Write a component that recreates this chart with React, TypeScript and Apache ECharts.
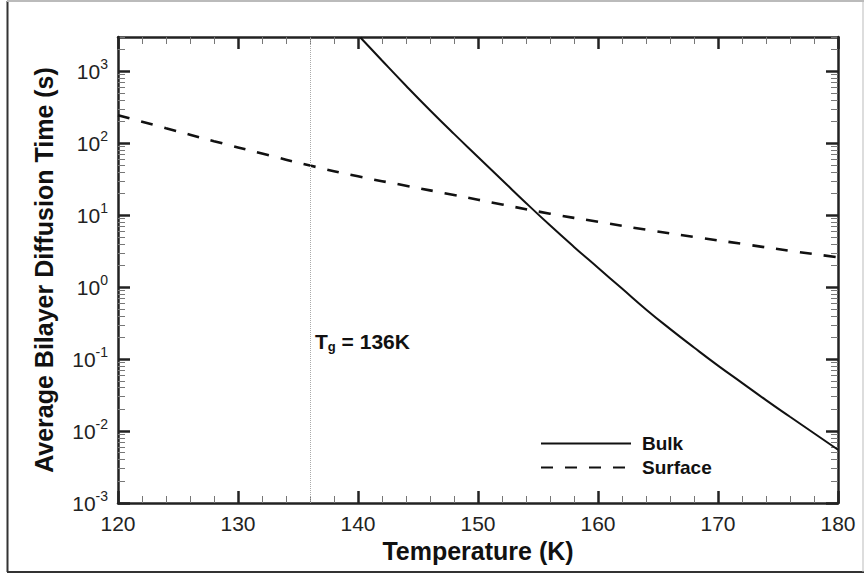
import React, { useEffect, useRef } from 'react';
import * as echarts from 'echarts';

const FONT = '"Liberation Sans", Arial, Helvetica, sans-serif';

// Bulk diffusion time (s) vs temperature (K)
const T_BULK = [140.2, 142, 144, 146, 148, 150, 152, 154, 156, 158, 160, 162, 164, 166, 168, 170, 172, 174, 176, 178, 180];
const BULK = [2951, 1413, 631, 288, 135, 64.6, 30.9, 14.8, 7.24, 3.63, 1.86, 0.955, 0.49, 0.263, 0.145, 0.0813, 0.0468, 0.0269, 0.0158, 0.00933, 0.0055];

// Surface diffusion time (s) vs temperature (K)
const T_SURF = [120, 124, 128, 132, 136, 140, 144, 148, 152, 156, 160, 164, 168, 172, 176, 180];
const SURF = [245, 162, 107, 72, 49, 34.7, 25.7, 19.1, 14.1, 10.5, 8.1, 6.3, 5.0, 4.0, 3.2, 2.6];

const TG = 136;
const X_MIN = 120;
const X_MAX = 180;
const Y_MIN = 0.001;
const Y_MAX = 3000;
const Y_MAJOR = [0.001, 0.01, 0.1, 1, 10, 100, 1000];
const Y_MINOR: number[] = [];
for (const d of Y_MAJOR) {
  for (let k = 2; k <= 9; k++) {
    const v = parseFloat((k * d).toPrecision(6));
    if (v <= Y_MAX) Y_MINOR.push(v);
  }
}

const AXIS_COLOR = '#222';
const MINOR_COLOR = '#777';

export default function App() {
  const ref = useRef<HTMLDivElement>(null);
  useEffect(() => {
    const chart = echarts.init(ref.current!, null, { renderer: 'svg' });
    const axisLine = { show: true, lineStyle: { color: AXIS_COLOR, width: 2.5 } };
    const majorTick = { show: true, inside: true, length: 12, lineStyle: { color: AXIS_COLOR, width: 2.5 } };
    const minorTick = { show: true, splitNumber: 5, length: 7, lineStyle: { color: MINOR_COLOR, width: 1 } };

    const yBase = (position: string) => ({
      type: 'log',
      logBase: 10,
      min: Y_MIN,
      max: Y_MAX,
      position,
      splitLine: { show: false },
      minorSplitLine: { show: false },
    });

    const option: any = {
      animation: false,
      backgroundColor: '#fff',
      grid: { left: 118, right: 26, top: 37, bottom: 72, containLabel: false },
      xAxis: [
        {
          type: 'value',
          position: 'bottom',
          min: X_MIN,
          max: X_MAX,
          interval: 10,
          axisLine,
          axisTick: majorTick,
          minorTick,
          splitLine: { show: false },
          minorSplitLine: { show: false },
          axisLabel: { show: true, margin: 10, fontSize: 21, color: AXIS_COLOR, fontFamily: FONT },
          name: 'Temperature (K)',
          nameLocation: 'middle',
          nameGap: 33,
          nameTextStyle: { fontSize: 25, fontWeight: 'bold', color: '#111', fontFamily: FONT },
        },
        {
          type: 'value',
          position: 'top',
          min: X_MIN,
          max: X_MAX,
          interval: 10,
          axisLine,
          axisTick: majorTick,
          minorTick,
          splitLine: { show: false },
          minorSplitLine: { show: false },
          axisLabel: { show: false },
        },
      ],
      yAxis: [
        {
          ...yBase('left'),
          axisLine,
          axisTick: { ...majorTick, customValues: Y_MAJOR },
          axisLabel: {
            show: true,
            margin: 10,
            customValues: Y_MAJOR,
            formatter: (v: number) => `{b|10}{e|${Math.round(Math.log10(v))}}`,
            rich: {
              b: { fontSize: 21, lineHeight: 28, color: AXIS_COLOR, fontFamily: FONT, verticalAlign: 'middle' },
              e: { fontSize: 14, lineHeight: 14, color: AXIS_COLOR, fontFamily: FONT, verticalAlign: 'top' },
            },
          },
          name: 'Average Bilayer Diffusion Time (s)',
          nameLocation: 'middle',
          nameGap: 62,
          nameRotate: 90,
          nameTextStyle: { fontSize: 25, fontWeight: 'bold', color: '#111', fontFamily: FONT },
        },
        {
          ...yBase('left'),
          axisLine: { show: false },
          axisTick: { show: true, inside: true, length: 7, customValues: Y_MINOR, lineStyle: { color: MINOR_COLOR, width: 1 } },
          axisLabel: { show: false },
        },
        {
          ...yBase('right'),
          axisLine,
          axisTick: { ...majorTick, customValues: Y_MAJOR },
          axisLabel: { show: false },
        },
        {
          ...yBase('right'),
          axisLine: { show: false },
          axisTick: { show: true, inside: true, length: 7, customValues: Y_MINOR, lineStyle: { color: MINOR_COLOR, width: 1 } },
          axisLabel: { show: false },
        },
      ],
      legend: {
        data: ['Bulk', 'Surface'],
        orient: 'vertical',
        left: 535,
        top: 429,
        itemWidth: 90,
        itemHeight: 14,
        itemGap: 5,
        itemStyle: { opacity: 0 },
        textStyle: { fontSize: 19, fontWeight: 'bold', color: '#111', fontFamily: FONT, padding: [0, 0, 0, 6] },
      },
      series: [
        {
          name: 'Bulk',
          type: 'line',
          xAxisIndex: 0,
          yAxisIndex: 0,
          symbol: 'none',
          smooth: true,
          lineStyle: { color: '#111', width: 2, type: 'solid' },
          itemStyle: { color: '#111' },
          data: T_BULK.map((t, i) => [t, BULK[i]]),
        },
        {
          name: 'Surface',
          type: 'line',
          xAxisIndex: 0,
          yAxisIndex: 0,
          symbol: 'none',
          smooth: true,
          lineStyle: { color: '#111', width: 2.6, type: [12, 12] },
          itemStyle: { color: '#111' },
          data: T_SURF.map((t, i) => [t, SURF[i]]),
          markLine: {
            silent: true,
            symbol: 'none',
            label: { show: false },
            lineStyle: { color: '#aaa', width: 1, type: 'dotted' },
            data: [{ xAxis: TG }],
          },
        },
      ],
      graphic: [
        {
          type: 'text',
          left: 315,
          top: 331,
          style: {
            text: `{t|T}{s|g}{t| = ${TG}K}`,
            rich: {
              t: { fontSize: 21, fontWeight: 'bold', lineHeight: 22, verticalAlign: 'top', fill: '#111', fontFamily: FONT },
              s: { fontSize: 13, fontWeight: 'bold', lineHeight: 13, verticalAlign: 'bottom', fill: '#111', fontFamily: FONT },
            },
          },
        },
        { type: 'line', shape: { x1: 7.5, y1: 1, x2: 7.5, y2: 572 }, style: { stroke: '#333', lineWidth: 2 } },
        { type: 'line', shape: { x1: 7, y1: 572, x2: 864, y2: 572 }, style: { stroke: '#333', lineWidth: 2 } },
        { type: 'line', shape: { x1: 7, y1: 1, x2: 864, y2: 1 }, style: { stroke: '#bbb', lineWidth: 2 } },
        { type: 'line', shape: { x1: 863, y1: 1, x2: 863, y2: 572 }, style: { stroke: '#bbb', lineWidth: 1 } },
      ],
    };
    chart.setOption(option);
    return () => chart.dispose();
  }, []);
  return (
    <div
      ref={ref}
      style={{ position: 'fixed', left: 0, top: 0, width: 864, height: 575, background: '#fff' }}
    />
  );
}
